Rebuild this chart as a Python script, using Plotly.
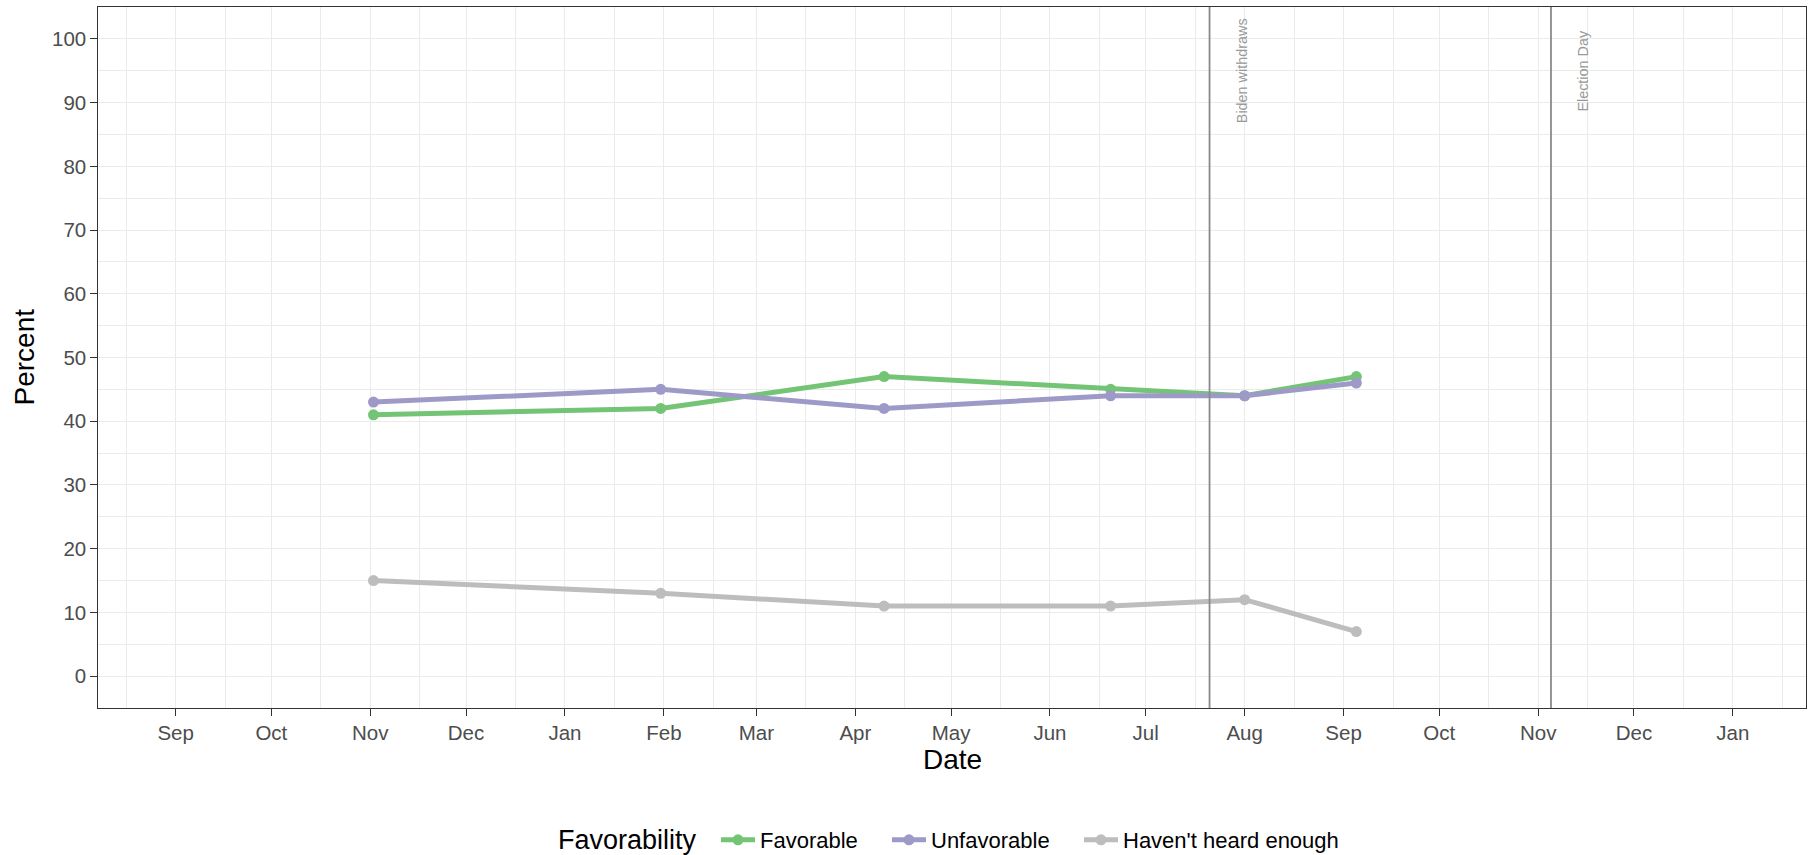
import plotly.graph_objects as go

# ---- data ----
poll_dates = ["2023-11-02", "2024-01-31", "2024-04-10", "2024-06-20", "2024-08-01", "2024-09-05"]
favorable = [41, 42, 47, 45, 44, 47]
unfavorable = [43, 45, 42, 44, 44, 46]
havent_heard = [15, 13, 11, 11, 12, 7]

series_names = ["Favorable", "Unfavorable", "Haven't heard enough"]
series_colors = ["#74C476", "#9E9AC8", "#BDBDBD"]
legend_title = "Favorability"

event_dates = ["2024-07-21", "2024-11-05"]
event_labels = ["Biden withdraws", "Election Day"]
event_label_dates = ["2024-07-31", "2024-11-15"]  # label placed 10 days after the line
event_label_y = 95

x_range = ["2023-08-07 16:00", "2025-01-23 22:00"]
y_range = [-5, 105]
y_ticks = list(range(0, 101, 10))

FONT = "Liberation Sans, Arial, Helvetica, sans-serif"

ML, MR, MT, MB = 98, 6, 7, 147
W, H = 1812, 855
PW, PH = W - ML - MR, H - MT - MB

def px_x(p):  # pixel -> paper x
    return (p - ML) / PW

def px_y(p):  # pixel -> paper y
    return (H - MB - p) / PH

legend_ids = ["legend", "legend2", "legend3"]
legend_left_px = [716, 887, 1079]
legend_row_px = 840

fig = go.Figure()
for name, vals, col, lid in zip(series_names, [favorable, unfavorable, havent_heard], series_colors, legend_ids):
    fig.add_trace(go.Scatter(
        x=poll_dates, y=vals, name=name, mode="lines+markers",
        line=dict(color=col, width=5),
        marker=dict(color=col, size=11),
        legend=lid,
    ))

shapes = []
for d in event_dates:
    shapes.append(dict(type="line", xref="x", yref="paper", x0=d, x1=d, y0=0, y1=1,
                       line=dict(color="#8a8a8a", width=1.8), layer="above"))

annotations = []
for d, lab in zip(event_label_dates, event_labels):
    annotations.append(dict(x=d, y=event_label_y, xref="x", yref="y", text=lab,
                            textangle=-90, showarrow=False, xanchor="center", yanchor="middle",
                            font=dict(family=FONT, size=14.4, color="#999999")))
# axis titles
annotations.append(dict(x=px_x(24), y=0.5, xref="paper", yref="paper", text="Percent",
                        textangle=-90, showarrow=False, xanchor="center", yanchor="middle",
                        font=dict(family=FONT, size=28, color="#000000")))
annotations.append(dict(x=0.5, y=px_y(759), xref="paper", yref="paper", text="Date",
                        showarrow=False, xanchor="center", yanchor="middle",
                        font=dict(family=FONT, size=28, color="#000000")))
# legend title
annotations.append(dict(x=px_x(627), y=px_y(legend_row_px), xref="paper", yref="paper",
                        text=legend_title, showarrow=False, xanchor="center", yanchor="middle",
                        font=dict(family=FONT, size=27, color="#000000")))

legend_common = dict(orientation="h", xanchor="left", yanchor="middle", y=px_y(legend_row_px),
                     font=dict(family=FONT, size=22, color="#000000"),
                     itemwidth=34, bgcolor="rgba(0,0,0,0)", borderwidth=0)

fig.update_layout(
    width=W, height=H,
    margin=dict(l=ML, r=MR, t=MT, b=MB, autoexpand=False),
    paper_bgcolor="white", plot_bgcolor="white",
    font=dict(family=FONT, color="#000000"),
    shapes=shapes, annotations=annotations,
    showlegend=True,
    legend=dict(x=px_x(legend_left_px[0]), **legend_common),
    legend2=dict(x=px_x(legend_left_px[1]), **legend_common),
    legend3=dict(x=px_x(legend_left_px[2]), **legend_common),
    xaxis=dict(
        type="date", range=x_range, automargin=False,
        tick0="2023-09-01", dtick="M1", tickformat="%b",
        ticks="outside", ticklen=6.5, tickwidth=1.2, tickcolor="#333333",
        tickfont=dict(family=FONT, size=20.5, color="#4D4D4D"),
        showgrid=True, gridcolor="#EBEBEB", gridwidth=1.4,
        minor=dict(tick0="2023-08-16 12:00", dtick="M1", showgrid=True,
                   gridcolor="#EBEBEB", gridwidth=0.8, ticks=""),
        showline=True, mirror=True, linecolor="#333333", linewidth=1.3,
        zeroline=False,
    ),
    yaxis=dict(
        range=y_range, tickvals=y_ticks, automargin=False,
        ticks="outside", ticklen=6.5, tickwidth=1.2, tickcolor="#333333",
        tickfont=dict(family=FONT, size=20.5, color="#4D4D4D"),
        showgrid=True, gridcolor="#EBEBEB", gridwidth=1.4,
        minor=dict(tick0=5, dtick=10, showgrid=True, gridcolor="#EBEBEB", gridwidth=0.8, ticks=""),
        showline=True, mirror=True, linecolor="#333333", linewidth=1.3,
        zeroline=False,
    ),
)

# remove the browser's default 8px page margin so the figure sits at the top-left corner
fig.write_html("out.html", config={"displayModeBar": False},
               post_script="document.body.style.margin='0';document.body.style.overflow='hidden';")
